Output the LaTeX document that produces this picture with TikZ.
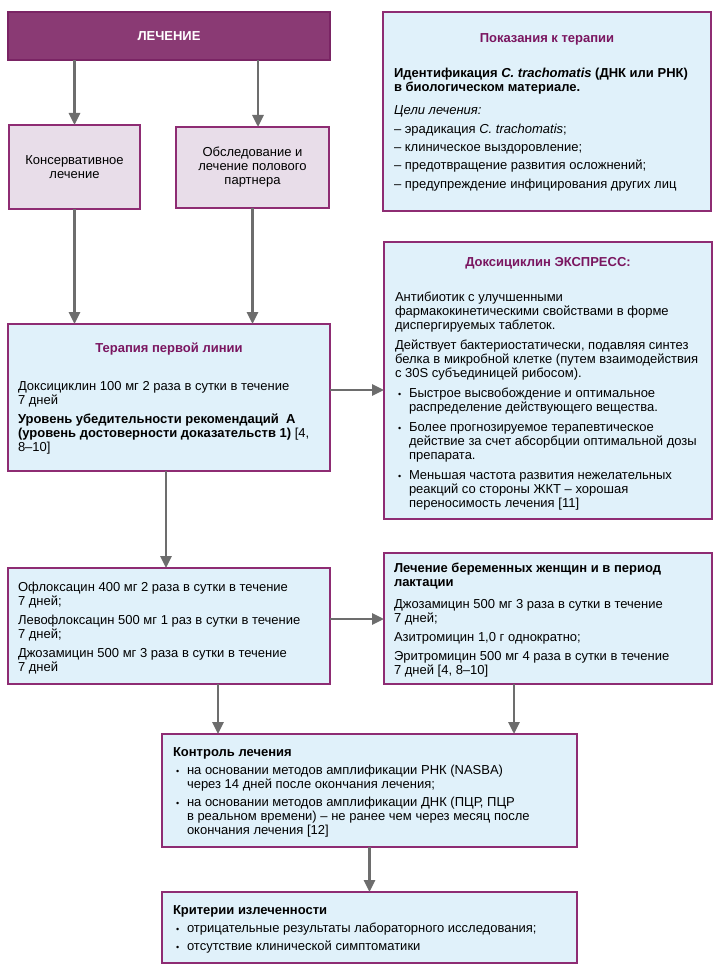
\documentclass[tikz,border=0pt]{standalone}
\usepackage{fontspec}
\setmainfont{Liberation Sans}
\usetikzlibrary{arrows.meta,calc}
\definecolor{topfill}{HTML}{8A3A74}
\definecolor{topline}{HTML}{7A2464}
\definecolor{boxline}{HTML}{8E2C73}
\definecolor{pinkfill}{HTML}{E8DDE9}
\definecolor{bluefill}{HTML}{E0F1FA}
\definecolor{titlec}{HTML}{7A1660}
\definecolor{arrowc}{HTML}{6D6D6D}
\newcommand\fl{\rule{0pt}{10pt}}
\newcommand\bul{\hspace*{3pt}\makebox[11pt][l]{\fontsize{9}{9}\selectfont•}}
\newcommand\ind{\hspace*{14pt}}
\newcommand\ttl[1]{\makebox[\linewidth][c]{\color{titlec}\bfseries #1}}
\newcommand\bxc[4]{\parbox[c][#1][t]{#2}{\fontsize{13}{14}\selectfont\raggedright\vspace*{#3}\fl #4}}
\tikzset{
  arr/.style={draw=arrowc, line width=2.8pt, -{Triangle[length=12pt,width=11pt]}},
  topbox/.style={draw=topline, fill=topfill, line width=1.8pt, inner sep=0pt, outer sep=0pt,
    anchor=north west, text=white, font=\fontsize{13}{14}\selectfont\bfseries},
  pinkbox/.style={draw=boxline, fill=pinkfill, line width=1.8pt, inner sep=0pt, outer sep=0pt,
    anchor=north west, align=center, font=\fontsize{13}{14}\selectfont},
  bluebox/.style={draw=boxline, fill=bluefill, line width=1.8pt, inner ysep=0pt, outer sep=0pt,
    anchor=north west},
}
\begin{document}
\begin{tikzpicture}[x=1pt,y=-1pt]
\useasboundingbox (0,0) rectangle (720,973);

\node[topbox, minimum width=322pt, minimum height=48pt] (top) at (8,12) {ЛЕЧЕНИЕ};
\node[pinkbox, minimum width=131pt, minimum height=84pt] (kons) at (9,125) {Консервативное\\ лечение};
\node[pinkbox, minimum width=153pt, minimum height=81pt] (obsl) at (176,127) {Обследование и\\ лечение полового\\ партнера};

\node[bluebox, inner xsep=11pt] (pokaz) at (383,12) {\bxc{199pt}{306pt}{21pt}{%
\ttl{Показания к терапии}\\[21pt]
\textbf{Идентификация \textit{C. trachomatis} (ДНК или РНК)}\\
\textbf{в биологическом материале.}\\[9pt]
\textit{Цели лечения:}\\[4.3pt]
– эрадикация \textit{C. trachomatis};\\[4.3pt]
– клиническое выздоровление;\\[4.3pt]
– предотвращение развития осложнений;\\[4.3pt]
– предупреждение инфицирования других лиц}};

\node[bluebox, inner xsep=10pt] (terap) at (8,324) {\bxc{147pt}{302pt}{18pt}{%
\ttl{Терапия первой линии}\\[24pt]
Доксициклин 100 мг 2 раза в сутки в течение\\
7 дней\\[5pt]
\textbf{Уровень убедительности рекомендаций~ А}\\
\textbf{(уровень достоверности доказательств 1)} [4,\\
8–10]}};

\node[bluebox, inner xsep=11pt] (doksi) at (384,242) {\bxc{277pt}{306pt}{14pt}{%
\ttl{Доксициклин ЭКСПРЕСС:}\\[21pt]
Антибиотик с улучшенными\\
фармакокинетическими свойствами в форме\\
диспергируемых таблеток.\\[6pt]
Действует бактериостатически, подавляя синтез\\
белка в микробной клетке (путем взаимодействия\\
с 30S субъединицей рибосом).\\[6pt]
\bul Быстрое высвобождение и оптимальное\\
\ind распределение действующего вещества.\\[6pt]
\bul Более прогнозируемое терапевтическое\\
\ind действие за счет абсорбции оптимальной дозы\\
\ind препарата.\\[6pt]
\bul Меньшая частота развития нежелательных\\
\ind реакций со стороны ЖКТ – хорошая\\
\ind переносимость лечения [11]}};

\node[bluebox, inner xsep=10pt] (oflox) at (8,568) {\bxc{116pt}{302pt}{13pt}{%
Офлоксацин 400 мг 2 раза в сутки в течение\\
7 дней;\\[5pt]
Левофлоксацин 500 мг 1 раз в сутки в течение\\
7 дней;\\[5pt]
Джозамицин 500 мг 3 раза в сутки в течение\\
7 дней}};

\node[bluebox, inner xsep=10pt] (beremen) at (384,553) {\bxc{131pt}{308pt}{9pt}{%
\textbf{Лечение беременных женщин и в период}\\
\textbf{лактации}\\[8pt]
Джозамицин 500 мг 3 раза в сутки в течение\\
7 дней;\\[5pt]
Азитромицин 1,0 г однократно;\\[5pt]
Эритромицин 500 мг 4 раза в сутки в течение\\
7 дней [4, 8–10]}};

\node[bluebox, inner xsep=11pt] (kontrol) at (162,734) {\bxc{113pt}{393pt}{12pt}{%
\textbf{Контроль лечения}\\[4pt]
\bul на основании методов амплификации РНК (NASBA)\\
\ind через 14 дней после окончания лечения;\\[4pt]
\bul на основании методов амплификации ДНК (ПЦР, ПЦР\\
\ind в реальном времени) – не ранее чем через месяц после\\
\ind окончания лечения [12]}};

\node[bluebox, inner xsep=11pt] (kriter) at (162,892) {\bxc{71pt}{393pt}{12pt}{%
\textbf{Критерии излеченности}\\[4pt]
\bul отрицательные результаты лабораторного исследования;\\[4pt]
\bul отсутствие клинической симптоматики}};

\coordinate (oa) at ($(obsl.north)+(5.5,0)$);
\coordinate (t1) at ($(terap.east)+(0,-7.5)$);
\coordinate (o1) at ($(oflox.east)+(0,-7)$);
\coordinate (o2) at ($(oflox.south)+(49,0)$);
\coordinate (b2) at ($(beremen.south)+(-34,0)$);

\draw[arr] (kons.north |- top.south) -- (kons.north);
\draw[arr] (oa |- top.south) -- (oa);
\draw[arr] (kons.south) -- (kons.south |- terap.north);
\draw[arr] (obsl.south) -- (obsl.south |- terap.north);
\draw[arr] (t1) -- (t1 -| doksi.west);
\draw[arr] ($(terap.south)+(-3,0)$) -- ($(terap.south |- oflox.north)+(-3,0)$);
\draw[arr] (o1) -- (o1 -| beremen.west);
\draw[arr] (o2) -- (o2 |- kontrol.north);
\draw[arr] (b2) -- (b2 |- kontrol.north);
\draw[arr] (kontrol.south) -- (kontrol.south |- kriter.north);
\end{tikzpicture}
\end{document}
